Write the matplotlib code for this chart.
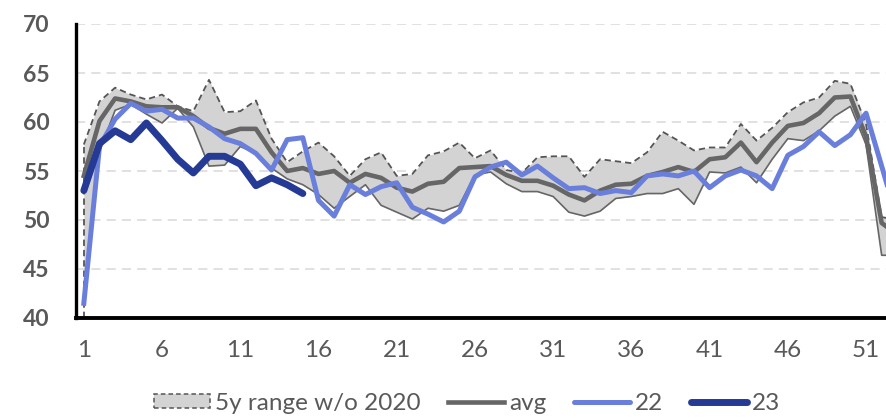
import matplotlib
matplotlib.use("Agg")
import matplotlib.pyplot as plt
from matplotlib.patches import Patch
from matplotlib.lines import Line2D
import numpy as np

weeks = np.arange(1, 54)

# 5y range w/o 2020 (max / min), average
range_hi = [57.7, 62.1, 63.5, 62.8, 62.3, 62.8, 61.6, 61.1, 64.3, 61.0,
            61.1, 62.2, 58.3, 55.9, 57.0, 57.9, 56.5, 54.5, 56.2, 56.9,
            54.5, 54.7, 56.6, 57.0, 57.9, 56.3, 57.1, 55.1, 54.8, 56.4,
            56.5, 56.5, 54.4, 56.2, 56.0, 55.8, 56.9, 59.0, 58.1, 57.1,
            57.4, 57.4, 59.8, 58.1, 59.4, 61.0, 62.0, 62.5, 64.2, 63.9,
            59.8, 50.3, 50.0]
range_lo = [42.0, 57.0, 61.2, 61.8, 60.8, 59.9, 61.4, 59.5, 55.5, 55.6,
            57.5, 56.8, 55.3, 54.2, 53.6, 52.6, 51.2, 52.4, 53.6, 51.5,
            50.8, 50.1, 51.2, 50.9, 51.5, 54.6, 54.9, 53.7, 52.9, 52.9,
            52.4, 50.8, 50.4, 50.9, 52.2, 52.4, 52.7, 52.7, 53.2, 51.6,
            54.9, 54.8, 55.4, 53.8, 56.2, 58.3, 58.1, 59.1, 60.6, 61.6,
            57.7, 46.4, 46.4]
avg = [54.5, 60.1, 62.4, 62.1, 61.6, 61.5, 61.5, 60.6, 59.4, 58.8,
       59.3, 59.3, 56.9, 55.0, 55.3, 54.7, 55.0, 53.8, 54.7, 54.3,
       53.3, 52.9, 53.7, 53.9, 55.3, 55.4, 55.5, 54.6, 54.0, 54.0,
       53.5, 52.6, 52.0, 53.0, 53.6, 53.7, 54.5, 54.9, 55.4, 54.9,
       56.2, 56.4, 57.9, 55.9, 57.9, 59.6, 59.9, 60.9, 62.5, 62.6,
       58.5, 49.7, 48.5]
y22 = [41.5, 57.5, 60.3, 61.9, 61.1, 61.3, 60.4, 60.4, 59.5, 58.3,
       57.8, 56.8, 55.1, 58.2, 58.4, 52.0, 50.4, 53.6, 52.6, 53.4,
       53.8, 51.3, 50.6, 49.8, 50.9, 54.4, 55.4, 55.9, 54.6, 55.5,
       54.3, 53.2, 53.3, 52.7, 53.0, 52.8, 54.5, 54.7, 54.5, 55.0,
       53.3, 54.5, 55.1, 54.5, 53.2, 56.6, 57.5, 59.0, 57.6, 58.7,
       60.9, 55.5, 50.0]
y23 = [53.0, 57.8, 59.1, 58.2, 59.9, 58.1, 56.2, 54.8, 56.5, 56.5,
       55.7, 53.5, 54.3, 53.6, 52.7]

xticks = np.arange(1, 53, 5)
yticks = np.arange(40, 71, 5)

c_fill = "#d3d3d3"
c_edge = "#555555"
c_avg = "#666666"
c_22 = "#6a7fdb"
c_23 = "#243a94"
c_text = "#595959"

plt.rcParams["font.family"] = ["Lato", "DejaVu Sans"]

fig = plt.figure(figsize=(8.87, 4.18), dpi=100)
ax = fig.add_axes([76 / 887, 1 - 318 / 418, (889.5 - 76) / 887, (318 - 24) / 418])
ax.set_xlim(0.5, 52.5)
ax.set_ylim(40, 70)

for y in yticks[1:]:
    ax.axhline(y, color="#d9d9d9", lw=1.1, dashes=(6, 4), zorder=0)

ax.fill_between(weeks, range_lo, range_hi, color=c_fill, lw=0, zorder=1)
ax.plot(weeks, range_hi, color=c_edge, lw=1.3, dashes=(3.5, 2.2), zorder=2)
ax.vlines(weeks[0], ax.get_ylim()[0], range_hi[0], color=c_edge, lw=1.3,
          linestyles=(0, (3.5, 2.2)), zorder=2)
ax.plot(weeks, range_lo, color=c_avg, lw=1.2, zorder=2)
ax.plot(weeks, avg, color=c_avg, lw=3.3, zorder=3)
ax.plot(weeks, y22, color=c_22, lw=3.6, zorder=4)
ax.plot(weeks[:len(y23)], y23, color=c_23, lw=5.0, zorder=5,
        solid_capstyle="round")

ax.set_xticks(xticks)
ax.set_yticks(yticks)
ax.tick_params(axis="x", length=0, pad=16, labelsize=17.5, labelcolor=c_text)
ax.tick_params(axis="y", length=0, pad=19, labelsize=16.5, labelcolor=c_text)
for lab in ax.get_yticklabels():
    lab.set_fontweight("bold")

for s in ["top", "right"]:
    ax.spines[s].set_visible(False)
ax.spines["left"].set_linewidth(2.4)
ax.spines["bottom"].set_linewidth(2.8)

handles = [
    Patch(facecolor=c_fill, edgecolor=c_edge, linestyle=(0, (3, 2)), lw=1.1),
    Line2D([], [], color=c_avg, lw=3.3),
    Line2D([], [], color=c_22, lw=3.6, solid_capstyle="round"),
    Line2D([], [], color=c_23, lw=5.0, solid_capstyle="round"),
]
labels = ["5y range w/o 2020", "avg", "22", "23"]
fig.legend(handles, labels, loc="center", bbox_to_anchor=(467 / 887, 1 - 403 / 418),
           ncol=4, frameon=False, fontsize=17.5, labelcolor=c_text,
           handlelength=2.3, handleheight=0.55, handletextpad=0.2,
           columnspacing=1.15, borderaxespad=0)

fig.savefig("out.png", dpi=100)
